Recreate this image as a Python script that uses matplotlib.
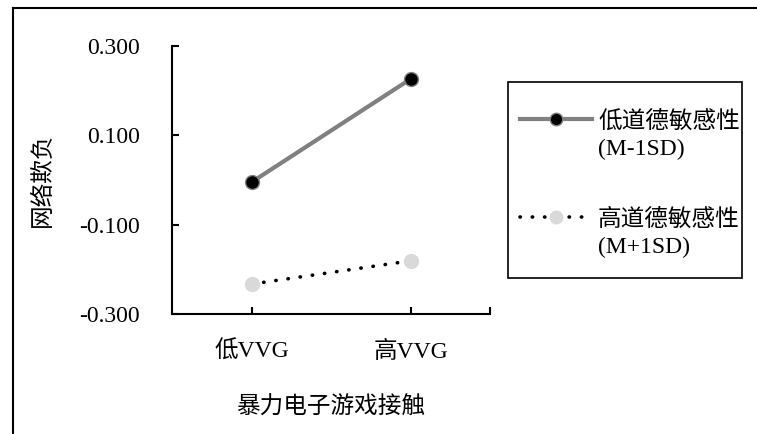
import matplotlib
matplotlib.use('Agg')
import matplotlib.pyplot as plt
from matplotlib.lines import Line2D
from matplotlib.patches import Rectangle
from matplotlib.ticker import FormatStrFormatter

plt.rcParams['font.family'] = ['Liberation Serif', 'Noto Sans CJK SC']

# data
categories = ['低VVG', '高VVG']
low_moral = [-0.005, 0.226]    # 低道德敏感性 (M-1SD)
high_moral = [-0.233, -0.181]  # 高道德敏感性 (M+1SD)
series_names = ['低道德敏感性', '高道德敏感性']
series_sub = ['(M-1SD)', '(M+1SD)']
y_ticks = [-0.3, -0.1, 0.1, 0.3]

W, H = 757, 434
FS = 17

fig = plt.figure(figsize=(W/100, H/100), dpi=100)
ax = fig.add_axes([172/W, 1-314/H, (490-172)/W, (314-46)/H])

styles = [
    dict(color='#808080', linewidth=3, linestyle='-', marker='o', markersize=10,
         markerfacecolor='black', markeredgecolor='#808080', markeredgewidth=1),
    dict(color='black', linewidth=2.6, linestyle=(0, (0.1, 3.3)),
         dash_capstyle='round', marker='o', markersize=10,
         markerfacecolor='#d9d9d9', markeredgecolor='#d9d9d9'),
]

x = [1, 2]
ax.plot(x, low_moral, **styles[0])
ax.plot(x, high_moral, **styles[1])

ax.set_xlim(0.5, 2.5)
ax.set_ylim(-0.3, 0.3)
ax.set_yticks(y_ticks)
ax.yaxis.set_major_formatter(FormatStrFormatter('%.3f'))
ax.set_xticks([1, 2, 2.5])
ax.set_xticklabels([])
for xi, lab in zip(x, categories):
    ax.annotate(lab, xy=(xi, 0), xycoords=('data', 'axes fraction'),
                xytext=(0, -38), textcoords='offset pixels',
                ha='center', va='center', fontsize=FS)

ax.tick_params(axis='both', direction='in', length=5, width=1.5, labelsize=FS)
ax.tick_params(axis='y', pad=23)
for s in ['top', 'right']:
    ax.spines[s].set_visible(False)
for s in ['left', 'bottom']:
    ax.spines[s].set_linewidth(1.5)

ax.set_ylabel('网络欺负', fontsize=FS, labelpad=18)
ax.set_xlabel('暴力电子游戏接触', fontsize=FS, labelpad=56)

# legend box, Excel style (handle aligned with first text line)
fig.add_artist(Rectangle((508/W, 1-278/H), (742-508)/W, (278-82)/H,
                         transform=fig.transFigure, facecolor='white',
                         edgecolor='black', linewidth=1.2))
for i, (ly, st) in enumerate(zip([119, 217], styles)):
    yf = 1 - ly/H
    line_st = {k: v for k, v in st.items() if not k.startswith('marker')}
    fig.add_artist(Line2D([520/W, 592/W], [yf, yf], transform=fig.transFigure,
                          **line_st))
    fig.add_artist(Line2D([556/W], [yf], transform=fig.transFigure,
                          linestyle='none', marker='o',
                          markersize=st['markersize'] - 1,
                          markerfacecolor=st['markerfacecolor'],
                          markeredgecolor=st['markeredgecolor']))
    fig.text(598/W, 1-(ly+3)/H, series_names[i], ha='left', va='center',
             fontsize=FS)
    fig.text(598/W, 1-(ly+30)/H, series_sub[i], ha='left', va='center',
             fontsize=FS)

# outer frame (left and top edges visible)
fig.add_artist(Line2D([13/W, 13/W], [0, 1-8/H], transform=fig.transFigure,
                      color='black', linewidth=1.5))
fig.add_artist(Line2D([13/W, 1], [1-8/H, 1-8/H], transform=fig.transFigure,
                      color='black', linewidth=1.5))

fig.savefig('out.png', dpi=100)
